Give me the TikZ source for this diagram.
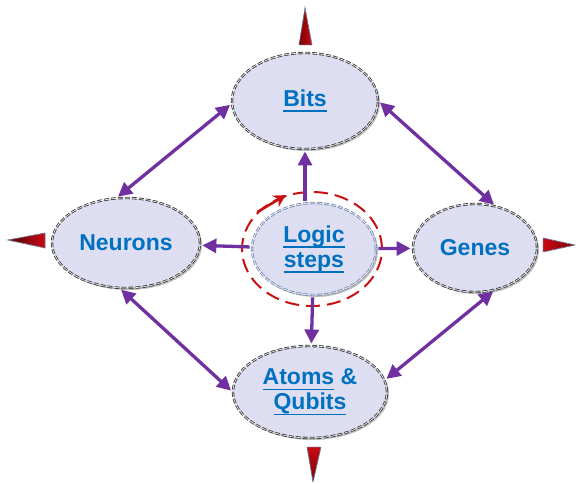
\documentclass[tikz,border=0pt]{standalone}
\usepackage{fontspec}
\setmainfont{Liberation Sans}
\newcommand{\myul}[1]{\leavevmode\setbox0\hbox{#1}\rlap{\rule[-5.5pt]{\wd0}{1.7pt}}\box0\relax}
\usetikzlibrary{shapes.geometric,arrows.meta,shadows}
\definecolor{nodefill}{RGB}{221,222,242}
\definecolor{txtblue}{RGB}{0,112,192}
\definecolor{linkpurple}{RGB}{112,48,160}
\definecolor{ringred}{RGB}{200,16,16}
\definecolor{bluegray}{RGB}{120,140,175}
\definecolor{spikedark}{RGB}{120,0,0}
\definecolor{spikelight}{RGB}{200,10,20}
\begin{document}
\begin{tikzpicture}[x=1pt,y=-1pt,
  blob/.style={ellipse, fill=nodefill, draw=black!75, double=white,
    double distance=0.6pt, line width=0.9pt, dash pattern=on 5pt off 2pt,
    inner sep=0pt, text=txtblue, align=center,
    font=\fontsize{23}{25}\selectfont\bfseries,
    drop shadow={shadow xshift=2pt, shadow yshift=-2pt, opacity=0.35, fill=black!70}},
  link/.style={draw=linkpurple, line width=3.3pt,
    shorten <=2pt, shorten >=2pt},
  twoway/.style={link, {Triangle[length=14pt,width=14pt]}-{Triangle[length=14pt,width=14pt]}},
  oneway/.style={link, -{Triangle[length=14pt,width=14pt]}},
  ringstyle/.style={ellipse, draw=ringred, line width=2pt,
    dash pattern=on 14pt off 7pt, inner sep=0pt},
  spike/.style={draw=bluegray, line width=0.9pt, dash pattern=on 2pt off 1pt}
]
\useasboundingbox (0,0) rectangle (576,484);

% outward spikes
\filldraw[spike, left color=spikedark, right color=spikelight] (299,45) -- (305,8) -- (312,45) -- cycle;
\filldraw[spike, top color=spikelight, bottom color=spikedark] (307,447) -- (313,482) -- (321,447) -- cycle;
\filldraw[spike, left color=spikedark!70!black, right color=spikelight] (45,233) -- (8,240) -- (45,248) -- cycle;
\filldraw[spike, left color=spikelight, right color=spikedark] (543,238) -- (575,245) -- (543,252) -- cycle;

% nodes
\node[blob, minimum width=146pt, minimum height=96pt] (bits) at (305,101) {\myul{Bits}};
\node[blob, minimum width=148pt, minimum height=90pt] (neu) at (126,243) {Neurons};
\node[blob, minimum width=124pt, minimum height=88pt] (genes) at (475,248) {Genes};
\node[blob, minimum width=154pt, minimum height=92pt] (atoms) at (310,392) {\myul{Atoms} \&\\\myul{Qubits}};
\node[ringstyle, minimum width=140pt, minimum height=114pt] (ring) at (312,249) {};
\node[blob, draw=bluegray, minimum width=124pt, minimum height=92pt] (logic) at (314,249) {\myul{Logic}\\\myul{steps}};

% red rotation arrow on the ring
\draw[draw=ringred, line width=2.6pt, -{Stealth[length=12pt,width=13pt]}] (ring.146) -- (ring.116);

% connectors
\draw[twoway] (bits.182) -- (neu.102);
\draw[twoway] (bits.0) -- (genes.64);
\draw[twoway] (neu.262) -- (atoms.180);
\draw[twoway] (genes.295) -- (atoms.9);
\draw[oneway] (bits.south |- logic.north) -- (bits.south);
\draw[oneway] (logic) -- (neu);
\draw[oneway] (logic) -- (genes);
\draw[oneway] (logic) -- (atoms);
\end{tikzpicture}
\end{document}
